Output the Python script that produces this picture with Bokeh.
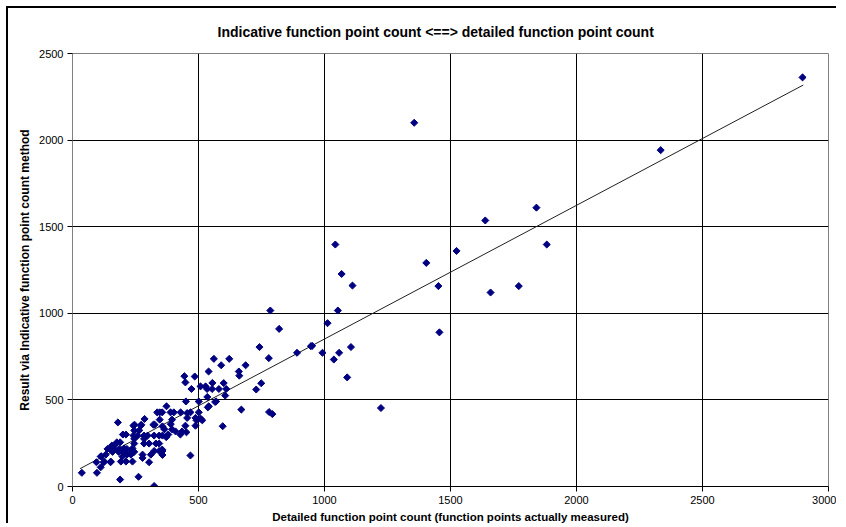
import math
from bokeh.plotting import figure
from bokeh.embed import file_html
from bokeh.resources import INLINE
from bokeh.models import Range1d, FixedTicker

# Data: (detailed FP count, indicative FP count)
detailed = [
    2897, 2334, 1356, 1841, 1638, 1043, 1882, 1524, 1404, 1068, 1111, 1452, 1659, 1771,
    1053, 1012, 1456, 946, 1105, 992, 1058, 1037, 1090, 1224, 785, 820, 742, 891, 779, 951,
    561, 622, 590, 687, 540, 660, 662, 749, 729, 555, 606, 535, 566, 537, 670, 780, 793, 508, 596,
    485, 448, 444, 472, 508, 528, 600, 581, 554, 534, 610, 501, 468, 501, 488, 450,
    488, 448, 452, 356, 468, 515, 492, 373, 336, 346, 356, 389, 402, 429, 346, 395, 286, 180,
    246, 273, 326, 242, 271, 321, 357, 245, 265, 200, 212, 242, 258, 284, 298, 324, 344, 357,
    245, 284, 176, 189, 245, 284, 304, 331, 344, 156, 165, 139, 152, 165, 185, 205, 216, 238,
    159, 183, 198, 235, 245, 324, 344, 357, 132, 216, 232, 278, 311, 357, 112, 198,
    126, 152, 192, 212, 238, 278, 95, 124, 151, 304, 112, 37, 97, 189, 262, 324, 114,
    365, 380, 395, 372, 390, 409, 435, 428, 455, 455, 570, 541,
]
indicative = [
    2362, 1942, 2100, 1610, 1536, 1397, 1397, 1360, 1291, 1227, 1160, 1157, 1120, 1157,
    1016, 943, 890, 810, 805, 772, 772, 733, 630, 453, 1016, 910, 805, 772, 741, 812,
    737, 737, 700, 700, 664, 664, 640, 596, 560, 598, 525, 517, 488, 457, 444, 430, 418, 392, 348,
    635, 601, 637, 563, 578, 578, 597, 563, 563, 563, 563, 491, 428, 428, 396, 491,
    351, 351, 313, 213, 179, 382, 382, 463, 428, 428, 428, 428, 428, 428, 386, 386, 390, 370,
    357, 357, 357, 351, 351, 357, 347, 324, 324, 300, 300, 294, 294, 294, 294, 294, 294, 294,
    275, 275, 255, 255, 248, 248, 248, 248, 248, 236, 236, 217, 217, 217, 217, 220, 217, 220,
    200, 200, 200, 200, 200, 205, 205, 205, 184, 184, 184, 184, 184, 182, 173, 173,
    144, 144, 144, 144, 144, 165, 140, 140, 140, 140, 111, 79, 79, 40, 56, 3, 175,
    330, 300, 330, 285, 360, 318, 318, 300, 396, 424, 491, 463,
]

# Linear trend line as drawn in the reference
trend_x = [30, 2900]
trend_y = [103, 2318]

x_ticks = [0, 500, 1000, 1500, 2000, 2500, 3000]
y_ticks = [0, 500, 1000, 1500, 2000, 2500]

FONT = "Liberation Sans"

p = figure(
    width=830, height=517,
    output_backend="svg", toolbar_location=None,
    x_range=Range1d(0, 3000), y_range=Range1d(0, 2500),
    title="Indicative function point count <==> detailed function point count",
    min_border_left=64, min_border_right=10, min_border_top=45, min_border_bottom=38,
)
p.margin = (6, 0, 0, 6)
p.styles = {"border-left": "2px solid black", "border-top": "2px solid black"}

p.title.align = "left"
p.title.offset = 145
p.title.text_font = FONT
p.title.text_font_size = "14px"
p.title.text_font_style = "bold"
p.title.text_color = "black"
p.title.standoff = 27

p.outline_line_color = "#808080"
p.outline_line_width = 1

for g, ticks in ((p.xgrid, x_ticks), (p.ygrid, y_ticks)):
    g.grid_line_color = "black"
    g.grid_line_width = 1
    g.ticker = FixedTicker(ticks=ticks)

p.xaxis.ticker = FixedTicker(ticks=x_ticks)
p.yaxis.ticker = FixedTicker(ticks=y_ticks)
p.xaxis.axis_label = "Detailed function point count (function points actually measured)"
p.yaxis.axis_label = "Result via Indicative function point count method"
for ax in (p.xaxis[0], p.yaxis[0]):
    ax.axis_label_text_font = FONT
    ax.axis_label_text_font_style = "bold"
    ax.axis_label_text_color = "black"
    ax.major_label_text_font = FONT
    ax.major_label_text_font_size = "11px"
    ax.major_label_text_color = "black"
    ax.minor_tick_line_color = None
    ax.major_tick_in = 0
    ax.major_tick_out = 5
    ax.major_tick_line_color = "black"
    ax.axis_label_standoff = 4
    ax.major_label_standoff = 4
p.xaxis.axis_label_text_font_size = "11.5px"
p.yaxis.axis_label_text_font_size = "12px"
p.xaxis.axis_line_color = "black"
p.yaxis.axis_line_color = "#808080"
p.yaxis.major_label_orientation = "horizontal"

p.line(trend_x, trend_y, line_color="#202020", line_width=1)
p.scatter(detailed, indicative, marker="square", size=5, angle=math.pi / 4,
          fill_color="#000080", line_color="#000080")

open("out.html", "w").write(file_html(p, INLINE))
